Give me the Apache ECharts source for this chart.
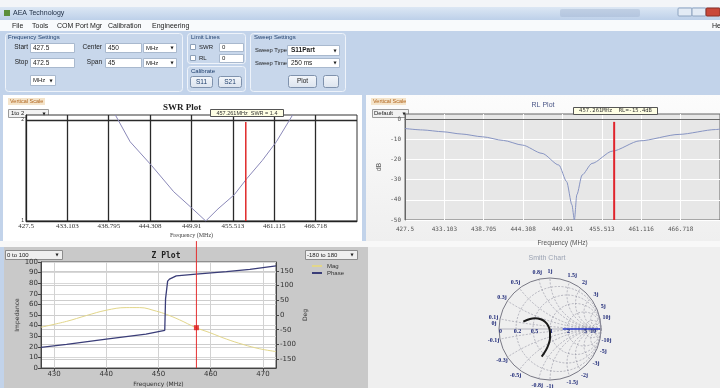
<!DOCTYPE html>
<html><head><meta charset="utf-8">
<script src="https://cdn.jsdelivr.net/npm/echarts@6/dist/echarts.min.js"></script>
<style>html,body{margin:0;padding:0;background:#c2d3ea;}#c{width:720px;height:388px;}</style>
</head><body><div id="c"></div><script>
// ---------- data ----------
const swrFreq  = [439.6, 441.6, 444.5, 447.5, 450.0, 451.84, 453.5, 455.7, 457.4, 459.5, 461.4, 463.6];
const swrValue = [2.05, 1.785, 1.55, 1.29, 1.125, 1.0, 1.12, 1.26, 1.42, 1.6, 1.785, 2.05];
const rlFreq  = [427.5, 430, 432.9, 435.5, 438.55, 441.5, 444.2, 447.0, 449.4, 450.5, 451.25, 451.6, 451.95, 452.7, 454.1, 457.0, 460.9, 466.5, 471.7, 472.32];
const rlValue = [-4.7, -5.4, -6.3, -7.4, -8.8, -10.6, -12.9, -17, -22.8, -31, -42.5, -50, -37.5, -27.7, -22, -15.9, -10.8, -7.6, -5.2, -5.0];
const zFreq = [427.5, 432.4, 436.2, 440.0, 443.8, 446.4, 449.6, 451.5, 454.0, 457.2, 459.8, 463.0, 466.2, 469.3, 472.5];
const zMag  = [38.5, 44, 49.5, 54.5, 57, 57, 53.6, 50.6, 45.5, 38, 33.4, 27.3, 22.2, 18.2, 15.5];
const phaseFreq = [427.5, 432.4, 440.0, 447.6, 451.2, 451.3, 451.35, 451.65, 451.75, 452.1, 453.4, 457.2, 463.0, 467.5, 472.5];
const zPhase    = [-110, -100, -82, -65, -52, -48, 55, 60, 115, 122, 133, 139, 147, 155, 167];
const smithRe = [-0.523, -0.392, -0.294, -0.182, -0.098, -0.033, 0, 0, -0.033, -0.078, -0.163];
const smithIm = [0.143, 0.196, 0.210, 0.190, 0.143, 0.059, -0.053, -0.182, -0.314, -0.412, -0.543];
const cursorFreq = 457.261, cursorSWRTop = 1.98, cursorRLTop = -1.4, cursorMag = 38;
const freqTicks = [427.5, 433.103, 438.705, 444.308, 449.91, 455.513, 461.115, 466.718];
const swrTickLabels = ['427.5','433.103','438.795','444.308','449.91','455.513','461.115','466.718'];
const rlTickLabels  = ['427.5','433.103','438.705','444.308','449.91','455.513','461.116','466.718'];
const swrYTicks = [1, 2];
const rlYTicks = [-50, -40, -30, -20, -10, 0];
const zXTicks = [430, 440, 450, 460, 470];
const phaseTicks = [-150, -100, -50, 0, 50, 100, 150];
const smithRGrid = [0.2, 0.5, 1, 2, 5, 10];
const smithXGrid = [0.1, 0.3, 0.5, 0.8, 1, 1.5, 2, 3, 5, 10];
const smithRLabels = [0, 0.2, 0.5, 1, 2, 5, 10];
const smithXLabels = [0, 0.1, 0.3, 0.5, 0.8, 1, 1.5, 2, 3, 5, 10];

// ---------- UI chrome ----------
const UI = '"Liberation Sans", Arial, sans-serif';
const G = [];
function R(x, y, w, h, fill, stroke, r, z) {
  G.push({type:'rect', z:(z==null?-5:z), silent:true, shape:{x:x, y:y, width:w, height:h, r:r||0},
    style:{fill:fill||'none', stroke:stroke||null, lineWidth:1}});
}
function T(x, y, s, o) {
  o = o || {};
  G.push({type:'text', z:(o.z==null?50:o.z), silent:true, x:x, y:y,
    style:{text:s, font:(o.w||'normal')+' '+(o.size||7)+'px '+(o.fam||UI), fill:o.color||'#1b1b1b',
      textAlign:o.align||'left', textVerticalAlign:'middle'}});
}
function ARROW(x, y) { T(x, y, '\u25BC', {size:4, fam:'"DejaVu Sans"', align:'center', color:'#222'}); }
function grad(c1, c2) { return {type:'linear', x:0, y:0, x2:0, y2:1, colorStops:[{offset:0, color:c1},{offset:1, color:c2}]}; }

// title + menu
R(0, 0, 720, 7, '#f3f5f8');
R(0, 7, 720, 13, grad('#dce7f4', '#bdd0e9'));
R(4, 10, 6, 6, '#5c8f3c');
T(13, 13.5, 'AEA Technology', {size:7, color:'#1e2d44'});
R(560, 9, 80, 8, 'rgba(150,170,200,0.35)', null, 2);
R(678, 8, 14, 8, '#e3ebf5', '#8ea4c0', 1);
R(692, 8, 14, 8, '#e3ebf5', '#8ea4c0', 1);
R(706, 8, 14, 8, '#c9483a', '#8a2f25', 1);
R(0, 20, 720, 11, '#f8fafc');
[['File',12],['Tools',32],['COM Port Mgr',57],['Calibration',108],['Engineering',152],['He',712]].forEach(function(m){ T(m[1], 26, m[0], {size:7}); });
R(0, 31, 720, 64, '#c2d3ea');
// Frequency settings group
R(5.5, 33.5, 177, 58, '#c8d7eb', '#eef3fa', 3);
T(8, 37, 'Frequency Settings', {size:6, color:'#20406e'});
T(28, 47.5, 'Start', {size:6.5, align:'right'}); R(30.5, 43.5, 44, 9, '#fff', '#a9b9ce'); T(33, 48, '427.5', {size:6.5});
T(28, 62.5, 'Stop', {size:6.5, align:'right'}); R(30.5, 58.5, 44, 9, '#fff', '#a9b9ce'); T(33, 63, '472.5', {size:6.5});
T(102, 47.5, 'Center', {size:6.5, align:'right'}); R(105.5, 43.5, 36, 9, '#fff', '#a9b9ce'); T(108, 48, '450', {size:6.5});
R(143.5, 43.5, 33, 9, '#fff', '#a9b9ce'); T(146, 48, 'MHz', {size:6}); ARROW(172, 48);
T(102, 62.5, 'Span', {size:6.5, align:'right'}); R(105.5, 58.5, 36, 9, '#fff', '#a9b9ce'); T(108, 63, '45', {size:6.5});
R(143.5, 58.5, 33, 9, '#fff', '#a9b9ce'); T(146, 63, 'MHz', {size:6}); ARROW(172, 63);
R(30.5, 75.5, 25, 10, '#fff', '#a9b9ce'); T(33, 80.5, 'MHz', {size:6}); ARROW(51, 80.5);
// Limit lines
R(187.5, 33.5, 58, 30, '#c8d7eb', '#eef3fa', 3);
T(191, 37, 'Limit Lines', {size:6, color:'#20406e'});
R(190.5, 44.5, 5, 5, '#fff', '#8da0b8'); T(199, 47, 'SWR', {size:6}); R(219.5, 43.5, 24, 8, '#fff', '#a9b9ce'); T(222, 47.5, '0', {size:6});
R(190.5, 55.5, 5, 5, '#fff', '#8da0b8'); T(199, 58, 'RL', {size:6}); R(219.5, 54.5, 24, 8, '#fff', '#a9b9ce'); T(222, 58.5, '0', {size:6});
// Calibrate
R(187.5, 66.5, 58, 25, '#c8d7eb', '#eef3fa', 3);
T(191, 71, 'Calibrate', {size:6, color:'#20406e'});
R(190.5, 76.5, 22, 11, grad('#f4f7fb','#dbe3ee'), '#7f92ad', 2); T(201.5, 82, 'S11', {size:6.5, align:'center', color:'#20406e'});
R(218.5, 76.5, 23, 11, grad('#f4f7fb','#dbe3ee'), '#7f92ad', 2); T(230, 82, 'S21', {size:6.5, align:'center', color:'#20406e'});
// Sweep settings
R(250.5, 33.5, 95, 58, '#c8d7eb', '#eef3fa', 3);
T(254, 37, 'Sweep Settings', {size:6, color:'#20406e'});
T(255, 50.5, 'Sweep Type', {size:5.8}); R(287.5, 45.5, 52, 10, '#fff', '#a9b9ce'); T(291, 50.5, 'S11Part', {size:6.5, w:'bold'}); ARROW(335, 50.5);
T(255, 63, 'Sweep Time', {size:5.8}); R(287.5, 58.5, 52, 9, '#fff', '#a9b9ce'); T(291, 63, '250 ms', {size:6.5}); ARROW(335, 63);
R(288.5, 75.5, 28, 12, grad('#f4f7fb','#dbe3ee'), '#7f92ad', 2); T(302.5, 81.5, 'Plot', {size:6.5, align:'center'});
R(323.5, 75.5, 15, 12, grad('#f4f7fb','#dbe3ee'), '#7f92ad', 2);

// plot panels (top)
R(3, 95, 359, 146, '#ffffff');
R(366, 95, 354, 146, grad('#fcfcfc', '#efefef'));
R(8, 98, 37, 7, '#f4e4cb'); T(10, 101.5, 'Vertical Scale', {size:5.5, color:'#b0641c'});
R(8.5, 109.5, 40, 8, '#f2f2f2', '#9a9a9a'); T(11, 113.5, '1to 2', {size:6}); ARROW(44, 113.5);
R(371, 98, 35, 7, '#f4e4cb'); T(373, 101.5, 'Vertical Scale', {size:5.5, color:'#b0641c'});
R(372.5, 109.5, 36, 8, '#f2f2f2', '#9a9a9a'); T(374, 113.5, 'Default', {size:6}); ARROW(404, 113.5);
T(182, 108, 'SWR Plot', {size:9, w:'bold', fam:'"Liberation Serif", serif', align:'center', color:'#222'});
R(210.5, 109.5, 73, 7, '#ffffe4', '#555', 0, 40); T(247, 113, '457.261MHz  SWR = 1.4', {size:5.5, align:'center', color:'#333'});
T(543, 105, 'RL Plot', {size:7, align:'center', color:'#4a5686'});
R(573.5, 107.5, 84, 7, '#ffffe4', '#555', 0, 40); T(615.5, 111, '457.261MHz  RL=-15.4dB', {size:5.5, align:'center', fam:'"DejaVu Sans Mono", monospace', color:'#333'});
// bottom panels
R(0, 241, 720, 6, '#f8f8f8');
R(4, 247, 364, 141, '#c9c9c9');
R(368, 247, 352, 141, '#efefef');
R(5.5, 250.5, 57, 9, '#efefef', '#8c8c8c'); T(7, 255, '0 to 100', {size:6}); ARROW(57, 255);
R(305.5, 250.5, 52, 9, '#efefef', '#8c8c8c'); T(307, 255, '-180 to 180', {size:6}); ARROW(352, 255);
T(166, 255.5, 'Z Plot', {size:8, w:'bold', fam:'"DejaVu Sans Mono", monospace', align:'center', color:'#222'});
T(547, 258, 'Smith Chart', {size:7, align:'center', color:'#9ca4b4'});

// ---------- helpers ----------
function pairs(a, b) { return a.map(function(v, i){ return [v, b[i]]; }); }
function nearestLabel(ticks, labels) {
  return function(v) { var k = 0, d = 1e9; ticks.forEach(function(t, i){ var dd = Math.abs(t - v); if (dd < d) { d = dd; k = i; } }); return labels[k]; };
}
const smithGridItems = [[0, 0], [2, 0]]
  .concat(smithRGrid.map(function(r){ return [0, r]; }))
  .concat(smithXGrid.map(function(x){ return [1, x]; }))
  .concat(smithXGrid.map(function(x){ return [1, -x]; }));
const smithLabelItems = smithRLabels.map(function(r){ return [0, r]; })
  .concat(smithXLabels.map(function(x){ return [1, x]; }))
  .concat(smithXLabels.filter(function(x){ return x > 0; }).map(function(x){ return [1, -x]; }));

function renderSmithGrid(params, api) {
  var kind = api.value(0), v = api.value(1);
  var unit = api.size([1, 1])[0];
  var dash = {fill:'none', stroke:'#8e8e9e', lineWidth:0.6, lineDash:[2, 1.5]};
  if (kind === 0) {
    var c = api.coord([v / (1 + v), 0]);
    var solid = v === 0;
    return {type:'circle', shape:{cx:c[0], cy:c[1], r:unit / (1 + v)},
      style: solid ? {fill:'none', stroke:'#5a5a6a', lineWidth:0.8} : dash};
  }
  if (kind === 2) {
    var a = api.coord([-1, 0]), b = api.coord([1, 0]);
    return {type:'line', shape:{x1:a[0], y1:a[1], x2:b[0], y2:b[1]}, style:{stroke:'#8e8e9e', lineWidth:0.6}};
  }
  var ax = Math.abs(v);
  var cc = api.coord([1, 1 / v]);
  var endA = Math.atan2(-(ax * ax - 1) / ax, -2);
  if (v > 0) {
    return {type:'arc', shape:{cx:cc[0], cy:cc[1], r:unit / ax, startAngle:Math.PI / 2, endAngle:endA, clockwise:true}, style:dash};
  }
  return {type:'arc', shape:{cx:cc[0], cy:cc[1], r:unit / ax, startAngle:-Math.PI / 2, endAngle:-endA, clockwise:false}, style:dash};
}
function renderSmithLabels(params, api) {
  var kind = api.value(0), v = api.value(1), p, txt;
  if (kind === 0) {
    p = [(v - 1) / (v + 1) + 0.03, -0.05];
    txt = String(v);
  } else {
    var ax = Math.abs(v);
    var gx = (ax * ax - 1) / (ax * ax + 1), gy = 2 * ax / (ax * ax + 1) * (v < 0 ? -1 : 1);
    p = v === 0 ? [-1.1, 0.1] : [gx * 1.13, gy * 1.13];
    txt = (v < 0 ? '-' + ax : String(v)) + 'j';
  }
  var c = api.coord(p);
  return {type:'text', x:c[0], y:c[1], style:{text:txt, font:'bold 6px "Liberation Serif", serif', fill:'#1d2877',
    textAlign:'center', textVerticalAlign:'middle'}};
}

const option = {
  animation: false,
  backgroundColor: '#c2d3ea',
  graphic: {elements: G},
  legend: {data:['Mag', 'Phase'], left:312, top:263, orient:'vertical', itemWidth:10, itemHeight:2, itemGap:1,
    textStyle:{fontSize:6, color:'#333', fontFamily:UI}, icon:'rect', padding:0},
  grid: [
    {left:26, top:115, width:331, height:106, show:true, backgroundColor:'#ffffff', borderColor:'#333', borderWidth:1},
    {left:405, top:114, width:316, height:106, show:true, backgroundColor:'#e7e7e7', borderColor:'#666', borderWidth:1},
    {left:41, top:262, width:235, height:110, show:true, backgroundColor:'#ffffff', borderColor:'#555', borderWidth:1},
    {left:499, top:278, width:102, height:102, show:false}
  ],
  xAxis: [
    {gridIndex:0, type:'value', min:427.5, max:472.32,
      axisLine:{lineStyle:{color:'#222'}}, axisTick:{show:false, customValues:freqTicks},
      axisLabel:{customValues:freqTicks, formatter:nearestLabel(freqTicks, swrTickLabels), margin:2, fontSize:7, color:'#333', fontFamily:'"Liberation Serif", serif'},
      splitLine:{show:true, lineStyle:{color:'#2a2a2a', width:1.3}},
      name:'Frequency (MHz)', nameLocation:'middle', nameGap:11, nameTextStyle:{fontSize:6, color:'#444', fontFamily:'"Liberation Serif", serif'}},
    {gridIndex:1, type:'value', min:427.5, max:472.32,
      axisLine:{lineStyle:{color:'#666'}}, axisTick:{show:false, customValues:freqTicks},
      axisLabel:{customValues:freqTicks, formatter:nearestLabel(freqTicks, rlTickLabels), margin:6, fontSize:6, color:'#555', fontFamily:'"DejaVu Sans Mono", monospace'},
      splitLine:{show:true, lineStyle:{color:'#ffffff', width:1}},
      name:'Frequency (MHz)', nameLocation:'middle', nameGap:20, nameTextStyle:{fontSize:6.5, color:'#555', fontFamily:UI}},
    {gridIndex:2, type:'value', min:427.5, max:472.5,
      axisLine:{lineStyle:{color:'#444'}}, axisTick:{show:true, customValues:zXTicks, length:3, lineStyle:{color:'#444'}},
      axisLabel:{customValues:zXTicks, margin:3, fontSize:7, color:'#333', fontFamily:'"DejaVu Sans", sans-serif'},
      splitLine:{show:true, lineStyle:{color:'#d2d2d2', width:1}},
      name:'Frequency (MHz)', nameLocation:'middle', nameGap:13, nameTextStyle:{fontSize:6, color:'#333', fontFamily:'"DejaVu Sans", sans-serif'}},
    {gridIndex:3, type:'value', min:-1, max:1, show:false}
  ],
  yAxis: [
    {gridIndex:0, type:'value', min:1, max:2.05,
      axisLine:{show:true, lineStyle:{color:'#222'}}, axisTick:{show:false, customValues:swrYTicks},
      axisLabel:{customValues:swrYTicks, margin:2, fontSize:5, color:'#333'},
      splitLine:{show:true, lineStyle:{color:'#2a2a2a', width:1.3}}},
    {gridIndex:1, type:'value', min:-50, max:2.5,
      axisLine:{show:true, lineStyle:{color:'#666'}}, axisTick:{show:false, customValues:rlYTicks},
      axisLabel:{customValues:rlYTicks, margin:4, fontSize:6, color:'#555', fontFamily:'"DejaVu Sans Mono", monospace'},
      splitLine:{show:true, lineStyle:{color:'#ffffff', width:1}},
      name:'dB', nameLocation:'middle', nameGap:22, nameRotate:90, nameTextStyle:{fontSize:6.5, color:'#555'}},
    {gridIndex:2, type:'value', min:0, max:100, interval:10,
      axisLine:{show:true, lineStyle:{color:'#444'}}, axisTick:{show:true, length:3, lineStyle:{color:'#444'}},
      axisLabel:{margin:3, fontSize:7, color:'#333', fontFamily:'"DejaVu Sans", sans-serif'},
      splitLine:{show:true, lineStyle:{color:'#d8d8d8', width:1}},
      name:'Impedance', nameLocation:'middle', nameGap:20, nameRotate:90, nameTextStyle:{fontSize:6, color:'#333', fontFamily:'"DejaVu Sans", sans-serif'}},
    {gridIndex:2, type:'value', position:'right', min:-180, max:180,
      axisLine:{show:true, lineStyle:{color:'#444'}}, axisTick:{show:true, length:3, customValues:phaseTicks, lineStyle:{color:'#444'}},
      axisLabel:{customValues:phaseTicks, margin:4, fontSize:7, color:'#333', fontFamily:'"DejaVu Sans", sans-serif'},
      splitLine:{show:true, lineStyle:{color:'#cdcdcd', width:1}},
      name:'Deg', nameLocation:'middle', nameGap:26, nameRotate:90, nameTextStyle:{fontSize:6, color:'#333', fontFamily:'"DejaVu Sans", sans-serif'}},
    {gridIndex:3, type:'value', min:-1, max:1, show:false}
  ],
  series: [
    {name:'SWR', type:'line', xAxisIndex:0, yAxisIndex:0, data:pairs(swrFreq, swrValue), symbol:'none',
      lineStyle:{color:'#8a88b8', width:1}, z:3},
    {name:'swrCursor', type:'line', xAxisIndex:0, yAxisIndex:0, data:[[cursorFreq, 1], [cursorFreq, cursorSWRTop]], symbol:'none',
      lineStyle:{color:'#e02a2a', width:1.5}, z:4},
    {name:'RL', type:'line', xAxisIndex:1, yAxisIndex:1, data:pairs(rlFreq, rlValue), symbol:'none', smooth:0.25, smoothMonotone:'x',
      lineStyle:{color:'#8794c2', width:1}, z:3},
    {name:'rlCursor', type:'line', xAxisIndex:1, yAxisIndex:1, data:[[cursorFreq, -50], [cursorFreq, cursorRLTop]], symbol:'none',
      lineStyle:{color:'#e0242c', width:2}, z:4},
    {name:'Mag', type:'line', xAxisIndex:2, yAxisIndex:2, data:pairs(zFreq, zMag), symbol:'none', smooth:0.4,
      lineStyle:{color:'#e2d68a', width:1}, itemStyle:{color:'#e2d68a'}, z:3},
    {name:'Phase', type:'line', xAxisIndex:2, yAxisIndex:3, data:pairs(phaseFreq, zPhase), symbol:'none',
      lineStyle:{color:'#3a3d78', width:1.3}, itemStyle:{color:'#3a3d78'}, z:3},
    {name:'zCursor', type:'line', xAxisIndex:2, yAxisIndex:3, clip:false, data:[[cursorFreq, -180], [cursorFreq, 251]], symbol:'none',
      lineStyle:{color:'#e53030', width:1}, z:4},
    {name:'zDot', type:'scatter', xAxisIndex:2, yAxisIndex:2, data:[[cursorFreq, cursorMag]], symbol:'rect', symbolSize:5,
      itemStyle:{color:'#e01818'}, z:5},
    {name:'smithGrid', type:'custom', xAxisIndex:3, yAxisIndex:4, data:smithGridItems, renderItem:renderSmithGrid, silent:true, z:2},
    {name:'smithRef', type:'line', xAxisIndex:3, yAxisIndex:4, data:[[0.25, 0], [0.98, 0]], symbol:'none',
      lineStyle:{color:'#2f3fd0', width:1.5}, z:3},
    {name:'smithLabels', type:'custom', xAxisIndex:3, yAxisIndex:4, data:smithLabelItems, renderItem:renderSmithLabels, silent:true, z:4},
    {name:'S11', type:'line', xAxisIndex:3, yAxisIndex:4, data:pairs(smithRe, smithIm), symbol:'none', smooth:0.4,
      lineStyle:{color:'#1a1a1a', width:2}, z:5}
  ]
};
const chart = echarts.init(document.getElementById('c'), null, {renderer:'canvas', width:720, height:388});
chart.setOption(option);
</script></body></html>
